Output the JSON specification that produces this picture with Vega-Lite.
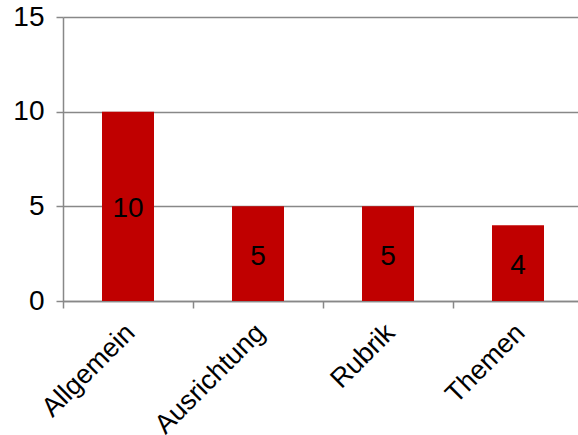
{
  "$schema": "https://vega.github.io/schema/vega-lite/v6.json",
  "autosize": {"type": "none"},
  "padding": {"left": 63, "top": 17, "right": 0, "bottom": 134},
  "width": 515,
  "height": 284,
  "config": {
    "font": "Liberation Sans",
    "view": {"stroke": null}
  },
  "data": {
    "values": [
      {"kategorie": "Allgemein", "anzahl": 10},
      {"kategorie": "Ausrichtung", "anzahl": 5},
      {"kategorie": "Rubrik", "anzahl": 5},
      {"kategorie": "Themen", "anzahl": 4}
    ]
  },
  "encoding": {
    "x": {
      "field": "kategorie",
      "type": "nominal",
      "sort": null,
      "title": null,
      "scale": {"range": [0, 520], "paddingInner": 0, "paddingOuter": 0},
      "axis": {
        "labelAngle": -45,
        "labelFontSize": 27,
        "labelColor": "#000000",
        "labelPadding": 11,
        "labelOffset": -7,
        "tickBand": "extent",
        "tickSize": 7,
        "tickColor": "#888888",
        "domainColor": "#888888",
        "tickWidth": 1.5,
        "domainWidth": 1.5
      }
    }
  },
  "layer": [
    {
      "mark": {"type": "bar", "color": "#C00000", "width": {"band": 0.4}},
      "encoding": {
        "y": {
          "field": "anzahl",
          "type": "quantitative",
          "title": null,
          "scale": {"domain": [0, 15], "nice": false},
          "axis": {
            "values": [0, 5, 10, 15],
            "labelFontSize": 28,
            "labelColor": "#000000",
            "labelPadding": 12,
            "tickSize": 7,
            "tickColor": "#888888",
            "domainColor": "#888888",
            "gridColor": "#888888",
            "tickWidth": 1.5,
            "domainWidth": 1.5,
            "gridWidth": 1.5
          }
        }
      }
    },
    {
      "mark": {"type": "text", "fontSize": 28, "color": "#000000", "baseline": "middle", "dy": 3},
      "encoding": {
        "y": {
          "field": "anzahl",
          "type": "quantitative",
          "scale": {"domain": [0, 30], "nice": false},
          "axis": null
        },
        "text": {"field": "anzahl", "type": "quantitative"}
      }
    }
  ],
  "resolve": {"scale": {"y": "independent"}}
}
